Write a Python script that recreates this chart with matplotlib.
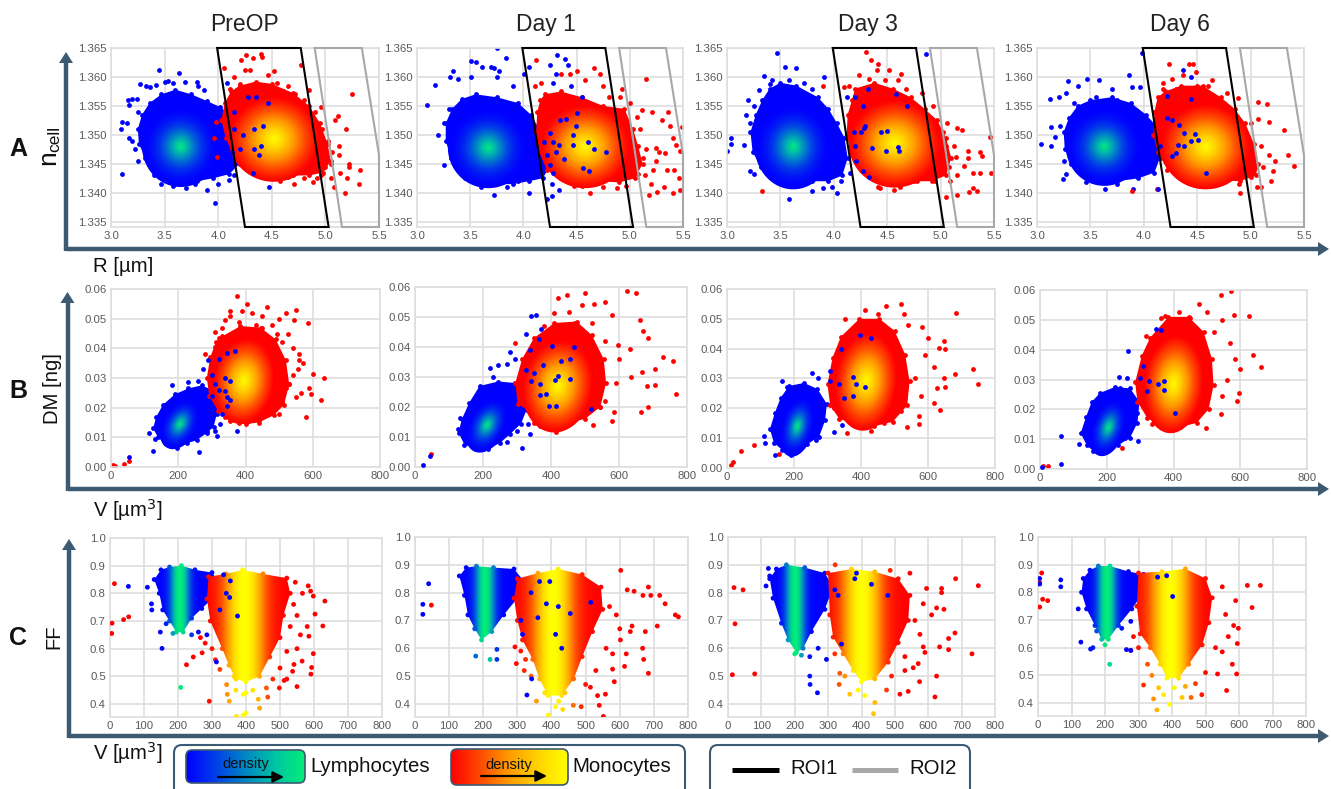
import numpy as np
import matplotlib
matplotlib.use("Agg")
import matplotlib.pyplot as plt
from matplotlib.colors import LinearSegmentedColormap
from matplotlib.patches import FancyBboxPatch, Polygon

plt.rcParams['font.family'] = ['Liberation Sans', 'DejaVu Sans']

DAYS = ["PreOP", "Day 1", "Day 3", "Day 6"]
ROI1_R = [3.99, 4.77, 5.03, 4.25]
ROI1_N = [1.365, 1.365, 1.3341, 1.3341]
ROI2_R = [4.90, 5.34, 5.50, 5.50, 5.155]
ROI2_N = [1.365, 1.365, 1.3465, 1.3341, 1.3341]

# cloud summaries: centre x, centre y, reach x, reach y, tilt
A_LYM_CORE = [(3.65, 1.348, .36, .0070, 0), (3.67, 1.3478, .38, .0070, 0), (3.62, 1.348, .36, .0074, 0), (3.63, 1.348, .36, .0068, 0)]
A_MONO_CORE = [(4.52, 1.3493, .42, .0074, 0), (4.58, 1.348, .42, .0072, 0), (4.57, 1.3485, .43, .0076, 0), (4.58, 1.348, .42, .0074, 0)]
B_LYM_CORE = [(205, .0145, 60, .0085, .35), (212, .0140, 63, .0092, .35), (210, .0140, 54, .0102, .3), (205, .0140, 56, .0097, .35)]
B_MONO_CORE = [(395, .0290, 92, .0145, .1), (420, .0270, 104, .0155, .1), (415, .0290, 94, .0165, .1), (400, .0285, 90, .0165, .1)]

# solid outlines of each cloud, read around its rim
A0_LYM_EDGE = [(3.6,1.3578),(3.75,1.3570),(3.9,1.3558),(4.02,1.3548),(4.1,1.3535),(4.15,1.351),(4.18,1.348),(4.2,1.345),(4.1,1.3432),(3.95,1.3425),(3.8,1.342),(3.65,1.3423),(3.5,1.3428),(3.4,1.344),(3.32,1.346),(3.26,1.3485),(3.25,1.351),(3.29,1.3535),(3.36,1.3555),(3.47,1.357)]
A0_MONO_EDGE = [(4.2,1.3585),(4.35,1.3592),(4.5,1.3588),(4.7,1.3572),(4.85,1.355),(4.95,1.352),(5.02,1.3485),(5.05,1.3455),(4.98,1.3435),(4.85,1.343),(4.7,1.343),(4.5,1.3432),(4.35,1.344),(4.22,1.345),(4.13,1.347),(4.07,1.3495),(4.03,1.3525),(4.06,1.3555),(4.12,1.3575)]
A1_LYM_EDGE = [(3.55,1.357),(3.75,1.3565),(3.95,1.3555),(4.07,1.3535),(4.15,1.351),(4.22,1.348),(4.25,1.3445),(4.18,1.3425),(4.05,1.342),(3.9,1.3415),(3.72,1.3415),(3.55,1.342),(3.42,1.3435),(3.32,1.346),(3.27,1.349),(3.27,1.352),(3.33,1.3545),(3.42,1.3562)]
A1_MONO_EDGE = [(4.2,1.357),(4.35,1.3575),(4.55,1.3565),(4.75,1.355),(4.95,1.3545),(5.03,1.351),(5.08,1.348),(5.12,1.345),(5.05,1.3425),(4.9,1.3418),(4.7,1.342),(4.5,1.3418),(4.35,1.3425),(4.22,1.344),(4.15,1.347),(4.12,1.3505),(4.13,1.354),(4.16,1.356)]
A2_LYM_EDGE = [(3.5,1.359),(3.65,1.3585),(3.85,1.3565),(3.95,1.3545),(4.03,1.352),(4.1,1.3495),(4.13,1.346),(4.08,1.343),(3.95,1.342),(3.8,1.342),(3.62,1.342),(3.45,1.343),(3.32,1.3445),(3.24,1.347),(3.22,1.3505),(3.27,1.3535),(3.33,1.356),(3.4,1.358)]
A2_MONO_EDGE = [(4.2,1.358),(4.38,1.359),(4.55,1.358),(4.72,1.3565),(4.85,1.3545),(4.97,1.3525),(5.05,1.3495),(5.1,1.346),(5.05,1.343),(4.92,1.342),(4.75,1.342),(4.55,1.342),(4.38,1.3425),(4.25,1.344),(4.17,1.3465),(4.12,1.35),(4.13,1.3535),(4.17,1.356)]
A3_LYM_EDGE = [(3.5,1.356),(3.7,1.3565),(3.88,1.3555),(4.02,1.3535),(4.12,1.3515),(4.18,1.349),(4.15,1.346),(4.1,1.3435),(3.95,1.3425),(3.75,1.342),(3.6,1.342),(3.45,1.343),(3.32,1.345),(3.26,1.3475),(3.25,1.3505),(3.3,1.353),(3.38,1.355)]
A3_MONO_EDGE = [(4.2,1.3575),(4.35,1.3585),(4.55,1.3585),(4.72,1.3565),(4.85,1.3545),(4.95,1.352),(5.03,1.3485),(5.07,1.345),(5.05,1.343),(4.9,1.342),(4.7,1.3422),(4.5,1.3425),(4.35,1.343),(4.22,1.344),(4.13,1.347),(4.09,1.35),(4.1,1.354),(4.13,1.3565)]
B0_LYM_EDGE = [(230,.0265),(270,.0275),(300,.026),(320,.023),(315,.018),(305,.0135),(285,.0115),(255,.009),(225,.008),(195,.007),(160,.008),(140,.0100),(125,.013),(135,.017),(155,.021),(190,.0245)]
B0_MONO_EDGE = [(330,.044),(385,.0475),(445,.047),(490,.043),(520,.036),(530,.028),(515,.021),(485,.0175),(440,.015),(400,.0145),(355,.0155),(318,.019),(292,.024),(285,.03),(295,.037),(312,.042)]
B1_LYM_EDGE = [(190,.027),(245,.0285),(295,.028),(328,.025),(328,.019),(312,.0145),(280,.011),(250,.008),(215,.006),(178,.006),(145,.0075),(128,.0115),(138,.016),(160,.0215)]
B1_MONO_EDGE = [(350,.043),(410,.048),(475,.0485),(520,.044),(555,.036),(562,.028),(545,.02),(500,.016),(440,.0145),(395,.015),(345,.018),(302,.021),(295,.028),(315,.036)]
B2_LYM_EDGE = [(185,.0275),(230,.0285),(270,.0265),(298,.0215),(293,.016),(275,.0105),(240,.008),(205,.006),(165,.006),(140,.0085),(128,.013),(143,.0185),(160,.0235)]
B2_MONO_EDGE = [(340,.044),(395,.05),(455,.05),(500,.046),(532,.038),(545,.029),(538,.021),(495,.0155),(440,.014),(385,.0145),(335,.0165),(308,.021),(300,.028),(315,.037)]
B3_LYM_EDGE = [(180,.0255),(225,.0275),(270,.027),(298,.0225),(292,.0155),(270,.0105),(235,.008),(200,.006),(160,.006),(140,.008),(122,.012),(138,.0175),(155,.0225)]
B3_MONO_EDGE = [(330,.044),(385,.051),(445,.051),(490,.046),(515,.037),(520,.028),(505,.02),(470,.0155),(420,.014),(365,.0145),(322,.017),(292,.0225),(285,.029),(305,.038)]

C_LYM_POLY = [
    [(130, .85), (150, .885), (175, .895), (210, .90), (250, .885), (300, .875), (320, .84), (300, .78), (270, .745), (240, .71), (215, .66), (195, .66), (175, .70), (155, .74), (145, .80)],
    [(130, .86), (150, .89), (180, .895), (230, .89), (290, .885), (320, .84), (300, .78), (260, .72), (225, .66), (195, .63), (175, .67), (155, .72), (145, .79)],
    [(125, .85), (145, .885), (175, .90), (230, .89), (290, .87), (315, .82), (290, .74), (250, .66), (225, .60), (205, .585), (180, .63), (160, .69), (135, .78)],
    [(135, .85), (155, .88), (180, .895), (215, .895), (270, .875), (315, .865), (315, .80), (280, .74), (240, .68), (210, .63), (190, .63), (170, .68), (145, .74), (130, .80)],
]
C_MONO_POLY = [
    [(290, .86), (340, .87), (390, .885), (450, .87), (520, .855), (530, .80), (510, .72), (500, .64), (470, .57), (440, .50), (400, .48), (370, .49), (350, .54), (330, .60), (295, .70), (285, .78)],
    [(300, .85), (360, .87), (420, .885), (490, .865), (545, .82), (550, .74), (520, .66), (490, .57), (465, .49), (430, .43), (390, .43), (365, .49), (345, .56), (315, .63), (300, .70), (290, .78)],
    [(300, .87), (370, .885), (440, .875), (510, .85), (545, .79), (540, .70), (510, .62), (480, .55), (440, .49), (400, .48), (375, .52), (345, .58), (315, .64), (305, .72)],
    [(300, .87), (370, .875), (440, .885), (500, .85), (520, .78), (510, .69), (490, .61), (450, .54), (420, .49), (385, .49), (365, .54), (335, .60), (305, .65), (295, .75)],
]
C_LYM_PEAK = [205, 205, 200, 205]
C_MONO_PEAK = [395, 405, 400, 395]

A0_LYM = [(3.45,1.3612),(3.63,1.3606),(3.27,1.3588),(3.33,1.3584),(3.36,1.3582),(3.42,1.3586),(3.5,1.3592),(3.53,1.3593),(3.58,1.359),(3.69,1.3592),(3.8,1.3592),(3.81,1.3585),(3.87,1.3578),(4.08,1.359),(3.16,1.356),(3.2,1.3562),(3.24,1.3562),(3.17,1.3552),(3.25,1.354),(3.09,1.351),(3.1,1.3523),(3.15,1.352),(3.17,1.3495),(3.2,1.349),(3.1,1.3432),(3.22,1.3475),(3.25,1.3455),(3.4,1.343),(3.47,1.3415),(3.58,1.3412),(3.7,1.3408),(3.78,1.3415),(3.9,1.3405),(3.97,1.3382),(4.0,1.3415),(4.1,1.3422),(4.15,1.343),(4.32,1.3435),(4.47,1.341),(4.33,1.351),(4.42,1.3515),(4.4,1.348),(4.33,1.3475),(4.38,1.3465),(4.23,1.35),(4.2,1.3475),(4.13,1.347),(4.15,1.351),(4.46,1.3555),(4.35,1.3565),(4.28,1.3565),(4.15,1.354)]
A0_MONO = [(5.25,1.357),(5.19,1.351),(5.32,1.344),(5.31,1.3415),(5.18,1.340),(4.77,1.362),(4.40,1.364),(4.41,1.3635),(4.26,1.3638),(4.32,1.3632),(4.21,1.363),(4.05,1.3615),(4.15,1.360),(4.25,1.3612),(4.30,1.3612),(4.52,1.361),(4.46,1.3603),(4.11,1.358),(4.85,1.3578),(4.96,1.3548),(5.12,1.3533),(5.09,1.3525),(4.97,1.351),(5.13,1.348),(5.13,1.3465),(5.22,1.345),(5.22,1.3445),(5.14,1.3435),(5.2,1.3425),(5.08,1.341),(4.88,1.3418),(4.71,1.3415),(4.58,1.342),(5.05,1.345),(5.0,1.3445),(4.96,1.343),(4.92,1.3425),(4.65,1.3585),(4.72,1.357),(4.8,1.356),(4.55,1.359),(4.38,1.3585),(4.28,1.3578),(4.2,1.3588),(4.35,1.359),(4.6,1.3575),(4.9,1.354),(5.02,1.349),(5.06,1.347),(5.05,1.3425),(4.8,1.3425),(4.65,1.3428),(4.45,1.343),(4.3,1.344),(3.98,1.3522),(3.96,1.3495),(3.99,1.3462)]
A1_LYM = [(3.75,1.365),(3.51,1.3628),(3.55,1.3625),(3.84,1.3633),(3.61,1.3618),(3.70,1.3618),(3.72,1.3615),(3.77,1.361),(3.34,1.361),(3.31,1.360),(3.39,1.3597),(3.51,1.360),(3.75,1.360),(3.17,1.3586),(3.09,1.3552),(3.9,1.3585),(4.01,1.3605),(4.05,1.3618),(4.25,1.362),(4.32,1.3638),(4.39,1.3631),(4.42,1.362),(4.45,1.3585),(4.31,1.3605),(4.28,1.359),(4.34,1.3525),(4.4,1.3528),(4.5,1.3537),(4.55,1.3565),(4.49,1.3515),(4.47,1.350),(4.28,1.3487),(4.31,1.347),(4.38,1.3458),(4.61,1.3487),(4.66,1.3475),(4.78,1.347),(4.56,1.3442),(4.62,1.3437),(4.47,1.3482),(4.25,1.3503),(4.19,1.3487),(4.22,1.3465),(4.25,1.3448),(4.33,1.3482),(4.28,1.3435),(3.72,1.3397),(4.05,1.340),(4.22,1.339),(4.27,1.3395),(4.33,1.3405),(4.27,1.3415),(3.25,1.3448),(3.2,1.35),(3.3,1.3545),(3.25,1.352),(3.45,1.3425),(3.6,1.341),(3.85,1.341),(3.95,1.342)]
A1_MONO = [(4.12,1.363),(5.15,1.3597),(4.66,1.3615),(4.93,1.358),(5.36,1.354),(5.3,1.3525),(5.38,1.3515),(5.49,1.3513),(5.41,1.3495),(5.43,1.3483),(5.47,1.3473),(5.33,1.3468),(5.25,1.3478),(5.27,1.347),(5.25,1.3455),(5.35,1.344),(5.42,1.344),(5.46,1.3425),(5.41,1.340),(5.47,1.3405),(5.18,1.3397),(5.26,1.3402),(5.32,1.341),(5.2,1.3415),(5.14,1.343),(5.22,1.344),(5.1,1.351),(5.11,1.3543),(5.21,1.354),(5.07,1.3531),(5.0,1.3555),(4.63,1.340),(4.75,1.341),(4.48,1.3412),(4.55,1.3412),(4.88,1.3408),(4.96,1.3412),(4.35,1.3605),(4.44,1.3605),(4.5,1.361),(4.58,1.3595),(4.72,1.3605),(4.75,1.3585),(4.8,1.3565),(4.91,1.3565),(4.17,1.359),(4.11,1.3585),(5.05,1.348),(5.12,1.346),(5.03,1.3445),(5.08,1.3432),(5.15,1.3475)]
A2_LYM = [(3.47,1.3642),(4.86,1.3640),(3.54,1.3618),(3.65,1.3616),(3.35,1.3602),(3.91,1.360),(3.4,1.3588),(3.2,1.356),(3.18,1.3535),(3.04,1.3495),(3.04,1.3485),(3.0,1.3472),(3.16,1.3482),(3.22,1.3438),(3.25,1.3432),(3.55,1.342),(3.57,1.3415),(3.58,1.3389),(3.8,1.3403),(3.9,1.3408),(4.03,1.340),(3.98,1.341),(4.07,1.342),(4.15,1.3435),(4.12,1.3565),(4.2,1.3565),(4.32,1.358),(4.27,1.355),(4.69,1.355),(4.58,1.357),(4.29,1.3515),(4.28,1.3512),(4.44,1.3505),(4.5,1.3507),(4.36,1.3478),(4.49,1.3472),(4.6,1.3479),(4.61,1.3473),(4.2,1.348),(4.19,1.3505),(4.25,1.3505),(4.27,1.3438),(4.33,1.3427),(4.21,1.3455),(3.3,1.3578),(3.42,1.3595),(3.58,1.3595),(3.72,1.359),(3.8,1.358),(3.25,1.355),(3.22,1.352)]
A2_MONO = [(3.33,1.3403),(4.3,1.3643),(4.35,1.363),(4.41,1.3623),(4.4,1.3612),(4.52,1.3612),(4.24,1.3603),(4.14,1.3585),(4.1,1.3582),(3.9,1.3585),(4.33,1.3597),(4.48,1.3595),(4.63,1.3605),(4.6,1.3595),(4.68,1.358),(4.83,1.3572),(4.93,1.355),(5.06,1.352),(5.15,1.3512),(5.2,1.3508),(5.46,1.3497),(5.13,1.348),(5.26,1.3472),(5.37,1.347),(5.39,1.3463),(5.26,1.346),(5.14,1.3462),(5.22,1.3447),(5.3,1.3435),(5.37,1.3435),(5.47,1.3435),(5.15,1.343),(5.3,1.3408),(5.34,1.3403),(5.27,1.3402),(5.15,1.3396),(5.05,1.3393),(5.09,1.342),(4.62,1.341),(4.56,1.3405),(4.41,1.341),(4.43,1.3408),(4.78,1.342),(4.65,1.342),(4.95,1.342),(5.08,1.3445),(5.05,1.348),(5.02,1.3505)]
A3_LYM = [(3.98,1.3642),(4.37,1.3612),(4.44,1.360),(3.86,1.3603),(3.29,1.3593),(3.47,1.3597),(3.58,1.3594),(3.12,1.3562),(3.21,1.3565),(3.27,1.3572),(3.38,1.3585),(3.7,1.358),(3.89,1.3582),(3.96,1.3583),(4.44,1.3562),(4.22,1.3567),(3.04,1.3485),(3.13,1.348),(3.13,1.3513),(3.22,1.3516),(3.17,1.3497),(3.24,1.3423),(3.27,1.3433),(3.46,1.3418),(3.64,1.3407),(3.9,1.3407),(4.13,1.3407),(4.58,1.3435),(4.33,1.3517),(4.38,1.3503),(4.48,1.3502),(4.44,1.349),(4.51,1.3492),(4.38,1.348),(4.32,1.3482),(4.26,1.3463),(4.3,1.3468),(4.22,1.353),(4.26,1.3525),(4.04,1.3515),(4.15,1.348),(3.35,1.3555),(3.55,1.3565),(3.75,1.356),(3.25,1.3455),(3.55,1.3425),(3.75,1.3415)]
A3_MONO = [(4.24,1.3622),(4.42,1.3622),(4.46,1.3622),(4.26,1.3597),(4.37,1.3603),(4.49,1.3608),(4.64,1.3595),(4.18,1.358),(4.18,1.359),(4.78,1.3572),(4.88,1.3563),(5.07,1.3557),(5.15,1.3553),(5.07,1.3527),(5.17,1.3522),(5.31,1.3508),(5.35,1.3465),(5.41,1.3447),(5.23,1.3455),(5.21,1.3438),(5.19,1.342),(5.1,1.341),(4.9,1.34),(5.06,1.341),(4.89,1.3415),(3.89,1.3403),(4.12,1.3406),(4.48,1.342),(4.7,1.3425),(5.17,1.3465),(5.12,1.3445),(5.0,1.3427),(4.6,1.3585),(4.5,1.3585),(4.3,1.358),(5.0,1.352),(5.1,1.348),(5.05,1.3445)]

B0_LYM = [(55,.0035),(125,.0055),(112,.0115),(262,.005),(375,.012),(180,.0275),(340,.030),(355,.029),(370,.039),(320,.0365),(345,.0385),(287,.036),(275,.033),(310,.028),(300,.031),(345,.0235),(355,.0225),(345,.0205),(330,.018),(340,.0255),(300,.024),(320,.026),(230,.0285),(260,.029),(325,.0145),(310,.012),(315,.0105),(195,.0065),(285,.012),(130,.0095),(140,.016)]
B0_MONO = [(5,.0007),(12,.0005),(40,.001),(55,.002),(632,.03),(625,.0225),(580,.017),(595,.0245),(590,.0265),(600,.0315),(585,.0485),(550,.053),(545,.0495),(520,.052),(375,.0575),(405,.055),(465,.054),(355,.0525),(355,.051),(390,.0525),(420,.052),(340,.0495),(380,.049),(310,.0455),(320,.0435),(330,.047),(280,.038),(310,.0405),(570,.035),(560,.036),(560,.038),(525,.045),(500,.050),(450,.051),(480,.048),(540,.04),(555,.033),(540,.031),(565,.025),(520,.0265),(550,.0235),(500,.018),(470,.018),(440,.016),(410,.0155),(380,.015),(340,.017),(510,.042),(510,.035),(495,.045),(430,.048),(450,.047),(530,.028),(510,.022)]
B1_LYM = [(23,.0006),(44,.0037),(315,.0065),(342,.0505),(357,.0508),(372,.046),(325,.0443),(364,.0428),(338,.039),(280,.0385),(294,.036),(245,.034),(222,.033),(228,.03),(193,.026),(272,.0345),(403,.0405),(456,.036),(456,.0295),(421,.0305),(412,.029),(368,.0278),(386,.0244),(368,.024),(395,.0205),(416,.0205),(351,.0315),(377,.034),(325,.0322),(342,.0288),(517,.0193),(338,.011),(333,.0143),(131,.0165),(126,.0126),(430,.0355),(468,.04),(300,.012),(270,.0085)]
B1_MONO = [(47,.0042),(420,.0565),(448,.0575),(500,.058),(623,.0587),(649,.058),(558,.055),(526,.0545),(491,.054),(410,.0512),(454,.0518),(579,.0507),(662,.049),(672,.0454),(684,.0431),(295,.0414),(596,.0406),(631,.0395),(728,.0367),(760,.0353),(705,.0328),(667,.0316),(635,.03),(681,.027),(705,.0274),(768,.0242),(684,.0201),(665,.0182),(579,.0154),(523,.014),(415,.0118),(447,.0143),(368,.0137),(351,.0148),(585,.0182),(544,.02),(520,.048),(470,.048),(560,.042),(600,.036),(590,.028),(560,.022),(380,.047)]
B2_LYM = [(164,.0293),(253,.032),(271,.0303),(340,.04),(398,.0445),(430,.0437),(306,.0326),(377,.0306),(413,.0272),(386,.0283),(377,.0241),(350,.0233),(306,.029),(333,.0283),(342,.0145),(142,.0045),(191,.0042),(114,.0084),(110,.0107),(318,.0122),(180,.027),(265,.0095)]
B2_MONO = [(12,.001),(18,.0019),(43,.0056),(80,.0078),(155,.0047),(684,.052),(520,.0549),(475,.0544),(412,.053),(351,.05),(450,.0515),(529,.0515),(582,.0473),(600,.0435),(649,.0425),(634,.0403),(652,.04),(734,.0331),(748,.0282),(680,.0314),(647,.0302),(627,.0268),(650,.027),(618,.0217),(636,.0195),(573,.0174),(573,.0149),(537,.0137),(520,.019),(358,.0118),(395,.0145),(320,.02),(590,.038),(618,.034),(540,.048),(560,.03),(580,.024),(430,.0125),(470,.015)]
B3_LYM = [(5,.0006),(64,.0017),(64,.0112),(116,.0084),(264,.0394),(348,.047),(362,.0465),(237,.031),(261,.0305),(310,.0345),(300,.0305),(327,.0295),(355,.0285),(371,.0295),(371,.0265),(404,.0187),(320,.026),(291,.0187),(295,.0094),(255,.0105),(135,.0125),(240,.027)]
B3_MONO = [(9,.001),(23,.001),(541,.0582),(573,.0595),(627,.0514),(582,.0516),(546,.05),(475,.0552),(416,.0525),(362,.0505),(500,.0525),(568,.0424),(639,.0382),(662,.0341),(598,.0336),(585,.037),(595,.0255),(589,.0227),(541,.0183),(496,.0136),(390,.0145),(336,.015),(246,.0071),(318,.0445),(375,.0512),(450,.0505),(520,.046),(560,.03),(545,.0245),(455,.0165)]

C0_LYM = [(54,.825),(110,.822),(122,.762),(123,.74),(153,.601),(148,.66),(313,.552),(375,.718),(354,.845),(323,.74),(352,.785),(342,.8),(334,.867),(208,.46),(165,.69),(185,.655),(240,.65),(260,.66),(285,.65)]
C0_MONO = [(13,.835),(6,.692),(5,.655),(40,.705),(55,.715),(632,.772),(626,.682),(603,.725),(583,.827),(590,.808),(598,.79),(580,.68),(585,.645),(598,.582),(565,.555),(593,.532),(591,.508),(541,.543),(537,.518),(520,.49),(512,.485),(550,.463),(498,.458),(460,.458),(479,.49),(225,.542),(245,.57),(271,.585),(266,.64),(292,.41),(351,.41),(436,.417),(464,.425),(440,.385),(400,.367),(372,.355),(392,.36),(345,.435),(392,.435),(420,.45),(343,.47),(365,.5),(420,.5),(323,.525),(545,.84),(566,.8),(560,.65),(550,.6),(520,.59),(300,.6),(280,.62),(310,.56),(500,.53),(370,.45),(400,.44),(540,.76),(550,.72),(530,.68)]
C1_LYM = [(40,.832),(23,.758),(23,.722),(178,.572),(220,.56),(240,.56),(240,.596),(342,.49),(328,.432),(430,.6),(412,.65),(395,.84),(340,.8),(385,.76),(455,.725),(420,.75),(515,.765),(360,.71),(315,.65),(310,.7),(365,.84)]
C1_MONO = [(48,.755),(603,.88),(684,.82),(622,.81),(642,.805),(668,.79),(691,.79),(717,.79),(733,.76),(763,.72),(772,.713),(710,.68),(675,.66),(636,.68),(631,.66),(602,.63),(579,.58),(619,.58),(667,.6),(670,.56),(684,.51),(614,.535),(579,.525),(584,.48),(540,.395),(552,.355),(487,.39),(464,.395),(433,.38),(391,.36),(297,.545),(324,.56),(310,.59),(293,.605),(558,.435),(535,.43),(514,.46),(356,.41),(412,.39),(421,.41),(570,.75),(590,.72),(600,.67),(560,.6),(530,.52),(500,.47),(440,.44),(380,.44),(340,.5),(320,.52)]
C2_LYM = [(121,.887),(114,.824),(125,.86),(245,.5),(246,.47),(268,.44),(295,.56),(245,.57),(340,.615),(380,.85),(430,.83),(479,.79),(385,.87),(320,.81),(330,.79),(220,.575),(200,.58),(270,.6)]
C2_MONO = [(18,.818),(45,.81),(21,.688),(13,.505),(80,.508),(321,.9),(486,.88),(545,.87),(682,.85),(750,.825),(640,.815),(640,.80),(595,.815),(585,.76),(625,.745),(647,.74),(610,.72),(680,.655),(661,.635),(661,.595),(634,.605),(731,.58),(585,.605),(590,.585),(570,.545),(574,.48),(625,.5),(620,.425),(540,.445),(515,.435),(475,.45),(436,.365),(440,.405),(410,.43),(365,.435),(333,.47),(555,.53),(530,.52),(335,.51),(560,.7),(575,.65),(530,.57),(490,.5),(390,.45),(350,.5),(320,.58)]
C3_LYM = [(5,.85),(68,.845),(68,.82),(5,.83),(128,.62),(157,.595),(164,.6),(214,.54),(264,.593),(277,.59),(402,.785),(384,.86),(357,.855),(277,.695),(200,.61),(175,.66),(250,.67),(120,.74)]
C3_MONO = [(11,.87),(5,.835),(5,.747),(14,.775),(29,.77),(625,.825),(664,.825),(639,.745),(590,.77),(598,.67),(584,.68),(568,.64),(595,.615),(550,.585),(580,.54),(593,.505),(536,.505),(563,.445),(489,.43),(457,.42),(430,.42),(345,.415),(355,.375),(393,.395),(315,.465),(327,.54),(360,.455),(407,.455),(277,.59),(550,.82),(560,.72),(530,.6),(500,.51),(470,.47),(440,.46),(375,.43),(340,.5),(300,.6),(285,.64)]

A_LYM = [A0_LYM, A1_LYM, A2_LYM, A3_LYM]
A_MONO = [A0_MONO, A1_MONO, A2_MONO, A3_MONO]
B_LYM = [B0_LYM, B1_LYM, B2_LYM, B3_LYM]
B_MONO = [B0_MONO, B1_MONO, B2_MONO, B3_MONO]
C_LYM = [C0_LYM, C1_LYM, C2_LYM, C3_LYM]
C_MONO = [C0_MONO, C1_MONO, C2_MONO, C3_MONO]
A_LYM_EDGES = [A0_LYM_EDGE, A1_LYM_EDGE, A2_LYM_EDGE, A3_LYM_EDGE]
A_MONO_EDGES = [A0_MONO_EDGE, A1_MONO_EDGE, A2_MONO_EDGE, A3_MONO_EDGE]
B_LYM_EDGES = [B0_LYM_EDGE, B1_LYM_EDGE, B2_LYM_EDGE, B3_LYM_EDGE]
B_MONO_EDGES = [B0_MONO_EDGE, B1_MONO_EDGE, B2_MONO_EDGE, B3_MONO_EDGE]

# ---- layout and style -------------------------------------------------
W, H = 1331, 789
INK = '#3d5a73'
TICK = '#5a5a5a'
LYM_CMAP = LinearSegmentedColormap.from_list('lym', ['#0000ff', '#0040e8', '#0088c4', '#00c4a4', '#00ee78'])
MONO_CMAP = LinearSegmentedColormap.from_list('mono', ['#ff0000', '#ff4c00', '#ff9c00', '#ffd400', '#ffff00'])
DOT = 12
BLUE = '#0000ff'
RED = '#ff0000'

fig = plt.figure(figsize=(W / 100, H / 100), dpi=100, facecolor='white')

A_BOX = [(111, 379, 48, 227), (417, 683, 48, 227), (727, 994, 48, 227), (1037, 1304, 48, 227)]
B_BOX = [(111, 380, 289, 467), (415, 687, 287, 467), (727, 995, 289, 468), (1040, 1307, 290, 469)]
C_BOX = [(110, 382, 538, 717), (415, 688, 537, 717), (728, 995, 537, 717), (1038, 1306, 537, 716)]


def make_axes(box, xlim, ylim, xt, yt, fmt_x, fmt_y):
    l, r, t, b = box
    ax = fig.add_axes([l / W, 1 - b / H, (r - l) / W, (b - t) / H])
    ax.set_xlim(*xlim)
    ax.set_ylim(*ylim)
    ax.set_xticks(xt)
    ax.set_yticks(yt)
    ax.set_xticklabels([fmt_x % v for v in xt])
    ax.set_yticklabels([fmt_y % v for v in yt])
    ax.tick_params(length=0, labelsize=8.2, labelcolor=TICK, pad=3)
    ax.grid(True, color='#dedede', lw=1.2)
    ax.set_axisbelow(True)
    for s in ax.spines.values():
        s.set_color('#dedede')
        s.set_linewidth(1.2)
    return ax


def dots(ax, pts, color, z):
    xs = [p[0] for p in pts]
    ys = [p[1] for p in pts]
    ax.scatter(xs, ys, s=DOT, c=color, lw=0, zorder=z)


def cloud(ax, edge, c, cmap, power, solid, z):
    ax.fill([p[0] for p in edge], [p[1] for p in edge], color=solid, lw=0, zorder=z)
    dots(ax, edge, solid, z)
    cx, cy, rx, ry, rho = c
    th = np.linspace(0, 2 * np.pi, 100)
    for f in np.linspace(1, .02, 45):
        x = cx + f * rx * np.cos(th)
        y = cy + f * ry * (rho * np.cos(th) + np.sqrt(1 - rho ** 2) * np.sin(th))
        ax.fill(x, y, color=cmap((1 - f) ** power), lw=0, zorder=z)


def bell(v, peak, w):
    return np.exp(-((np.asarray(v, float) - peak) / w) ** 2)


def band(ax, poly, cmap, peak, w, ylim, z):
    xs = np.linspace(0, 800, 401)
    im = ax.imshow(bell(xs, peak, w)[None, :], cmap=cmap, vmin=0, vmax=1, extent=(0, 800, ylim[0], ylim[1]),
                   aspect='auto', zorder=z, interpolation='bilinear')
    im.set_clip_path(Polygon(poly, closed=True, transform=ax.transData))
    vx = [p[0] for p in poly]
    ax.scatter(vx, [p[1] for p in poly], s=DOT, c=cmap(bell(vx, peak, w)), lw=0, zorder=z)


for i in range(4):
    ax = make_axes(A_BOX[i], (3, 5.5), (1.3341, 1.365), [3, 3.5, 4, 4.5, 5, 5.5],
                   [1.335, 1.34, 1.345, 1.35, 1.355, 1.36, 1.365], '%.1f', '%.3f')
    dots(ax, [p for p in A_LYM[i] if p[0] < 4.05], BLUE, 1.5)
    cloud(ax, A_LYM_EDGES[i], A_LYM_CORE[i], LYM_CMAP, 1.9, BLUE, 2)
    cloud(ax, A_MONO_EDGES[i], A_MONO_CORE[i], MONO_CMAP, 1.15, RED, 2.5)
    dots(ax, A_MONO[i], RED, 2.4)
    dots(ax, [p for p in A_LYM[i] if p[0] >= 4.05], BLUE, 4)
    ax.fill(ROI2_R, ROI2_N, fc='none', ec='#a8a8a8', lw=1.5, zorder=5, clip_on=False)
    ax.fill(ROI1_R, ROI1_N, fc='none', ec='black', lw=1.5, zorder=6, clip_on=False)

    ax = make_axes(B_BOX[i], (0, 800), (0, .06), [0, 200, 400, 600, 800],
                   [0, .01, .02, .03, .04, .05, .06], '%d', '%.2f')
    cloud(ax, B_LYM_EDGES[i], B_LYM_CORE[i], LYM_CMAP, 1.9, BLUE, 2)
    dots(ax, B_MONO[i], RED, 2.4)
    cloud(ax, B_MONO_EDGES[i], B_MONO_CORE[i], MONO_CMAP, 1.15, RED, 2.5)
    dots(ax, B_LYM[i], BLUE, 4)

    ylim_c = (.353, 1.0)
    ax = make_axes(C_BOX[i], (0, 800), ylim_c, list(range(0, 801, 100)),
                   [.4, .5, .6, .7, .8, .9, 1.0], '%d', '%.1f')
    band(ax, C_LYM_POLY[i], LYM_CMAP, C_LYM_PEAK[i], 28, ylim_c, 2)
    band(ax, C_MONO_POLY[i], MONO_CMAP, C_MONO_PEAK[i], 58, ylim_c, 2.5)
    mx = [p[0] for p in C_MONO[i]]
    dots(ax, C_MONO[i], MONO_CMAP(bell(mx, C_MONO_PEAK[i], 58)), 3)
    lx = [p[0] for p in C_LYM[i]]
    dots(ax, C_LYM[i], LYM_CMAP(bell(lx, C_LYM_PEAK[i], 28)), 4)
    ax.set_xlim(0, 800)
    ax.set_ylim(*ylim_c)

# ---- overlay in pixel space: arrows, titles, legend ---------------------
ov = fig.add_axes([0, 0, 1, 1], zorder=10)
ov.set_xlim(0, W)
ov.set_ylim(H, 0)
ov.axis('off')
ov.patch.set_alpha(0)

SHAFT = 3.2
HEAD_L, HEAD_W = 11, 7
for vx, top, hy in [(66, 52, 249), (67.5, 292, 489), (69, 539, 736)]:
    ov.plot([vx, vx], [hy + 2, top + HEAD_L], color=INK, lw=SHAFT, solid_capstyle='butt')
    ov.plot([vx, 1318], [hy, hy], color=INK, lw=SHAFT, solid_capstyle='butt')
    ov.fill([vx - HEAD_W, vx + HEAD_W, vx], [top + HEAD_L, top + HEAD_L, top], color=INK, lw=0)
    ov.fill([1318, 1318, 1329], [hy - HEAD_W, hy + HEAD_W, hy], color=INK, lw=0)

for t, x in zip(DAYS, [245, 546, 868, 1180]):
    ov.text(x, 24, t, ha='center', va='center', fontsize=16.5, color='#222222')
for t, y in [('A', 149), ('B', 391), ('C', 638)]:
    ov.text(18, y, t, ha='center', va='center', fontsize=18, fontweight='bold', color='#111111')

ov.text(48, 158, 'n', rotation=90, ha='center', va='center', fontsize=19, color='#111111')
ov.text(55, 139, 'cell', rotation=90, ha='center', va='center', fontsize=12.5, color='#111111')
ov.text(53, 388, 'DM [ng]', rotation=90, ha='center', va='center', fontsize=14.6, color='#111111')
ov.text(54, 637, 'FF', rotation=90, ha='center', va='center', fontsize=14.6, color='#111111')
ov.text(93, 267, 'R [µm]', ha='left', va='center', fontsize=14.6, color='#111111')
for y in (510, 753):
    ov.text(93, y, 'V [µm$^{3}$]', ha='left', va='center', fontsize=14.6, color='#111111', math_fontfamily='custom')


def rbox(x0, y0, x1, y1, ec, lw, fc='white', r=8, z=11):
    p = FancyBboxPatch((x0, y0), x1 - x0, y1 - y0, boxstyle='round,pad=0,rounding_size=%g' % r,
                       fc=fc, ec=ec, lw=lw, zorder=z, mutation_aspect=1)
    ov.add_patch(p)
    return p


rbox(174, 745, 685, 810, INK, 1.5)
rbox(710, 745, 970, 810, INK, 1.5)
for (x0, x1, y0, y1, cm) in [(186, 305, 750, 783, LYM_CMAP), (451, 568, 749, 785, MONO_CMAP)]:
    p = rbox(x0, y0, x1, y1, INK, 1.2, fc='none', r=6, z=13)
    g = np.linspace(0, 1, 200)[None, :]
    im = ov.imshow(g, cmap=cm, extent=(x0, x1, y1, y0), aspect='auto', zorder=12)
    im.set_clip_path(p)
ov.set_xlim(0, W)
ov.set_ylim(H, 0)

for cx, ty, x0, x1, ay in [(246, 764, 218, 284, 777), (509, 765, 481, 547, 776)]:
    ov.text(cx, ty, 'density', ha='center', va='center', fontsize=10.5, color='#111111', zorder=14)
    ov.annotate('', xy=(x1, ay), xytext=(x0, ay), zorder=14,
                arrowprops=dict(arrowstyle='-|>,head_length=0.6,head_width=0.3', lw=1.6, color='black',
                                shrinkA=0, shrinkB=0, mutation_scale=11))

ov.text(310, 766, 'Lymphocytes', ha='left', va='center', fontsize=14.7, color='#111111', zorder=14)
ov.text(572, 767, 'Monocytes', ha='left', va='center', fontsize=14.7, color='#111111', zorder=14)
ov.plot([732, 779], [770, 770], color='black', lw=3.6, solid_capstyle='butt', zorder=14)
ov.plot([852, 898], [770, 770], color='#a8a8a8', lw=3.6, solid_capstyle='butt', zorder=14)
ov.text(790, 769, 'ROI1', ha='left', va='center', fontsize=14.7, color='#111111', zorder=14)
ov.text(909, 769, 'ROI2', ha='left', va='center', fontsize=14.7, color='#111111', zorder=14)

fig.savefig('out.png', dpi=100)
